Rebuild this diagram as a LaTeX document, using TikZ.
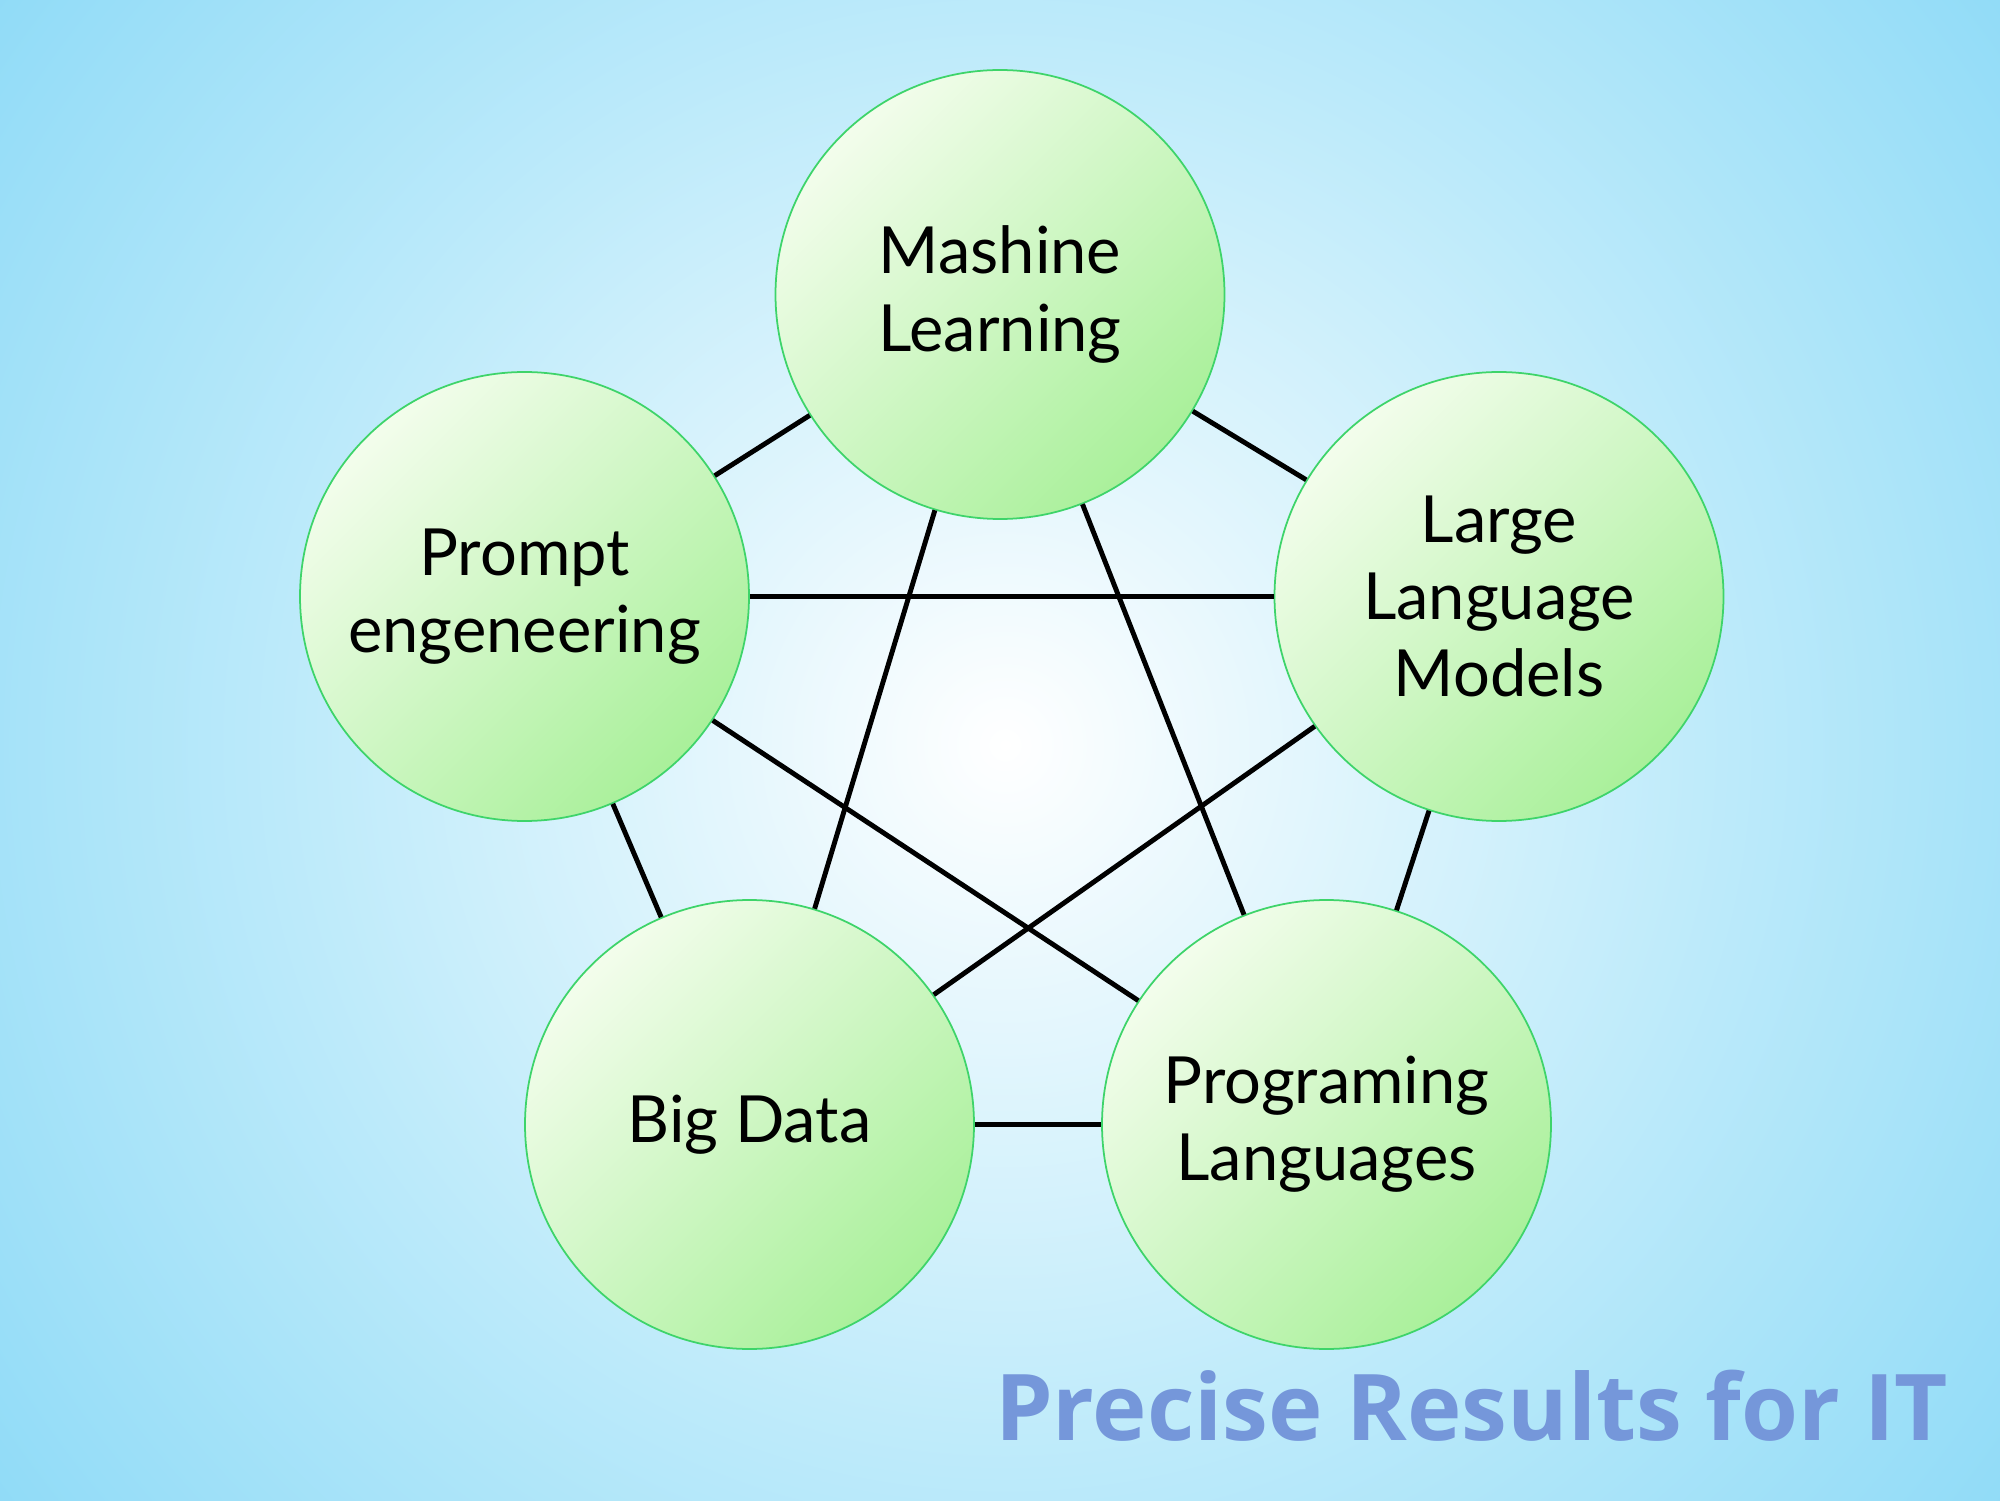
\documentclass[tikz,border=0pt]{standalone}
\usepackage{fontspec}
\setmainfont{Lato}
\newfontfamily\brandfont{Open Sans}
\usepackage{tikz}
\usetikzlibrary{calc}
\definecolor{skyblue}{HTML}{8DDAF7}
\definecolor{skylight}{HTML}{BCEAFA}
\definecolor{skypale}{HTML}{E6F7FD}
\definecolor{leafpale}{HTML}{F3FDEC}
\definecolor{leafdeep}{HTML}{A9F09A}
\definecolor{leafrim}{HTML}{3ED46A}
\definecolor{brandblue}{HTML}{7597DA}
\pgfdeclareradialshading{skyglow}{\pgfpoint{0bp}{0bp}}{color(0bp)=(white); color(5bp)=(skypale); color(14bp)=(skylight); color(25bp)=(skyblue); color(50bp)=(skyblue)}

\begin{document}
\begin{tikzpicture}[
    topic/.style = {circle, draw=leafrim, line width=0.5pt, minimum size=44.9mm,
        inner sep=0mm, align=center, shading=axis, top color=leafpale,
        bottom color=leafdeep, shading angle=45,
        font=\fontsize{18.5}{22}\selectfont},
    link/.style = {draw, black, line width=1.4pt}
  ]
  \useasboundingbox (0,0) rectangle (20,15);
  \begin{scope}
    \clip (0,0) rectangle (20,15);
    \shade[shading=skyglow] (10.05,7.55) circle (13);
  \end{scope}

  \node[topic] (ml)  at (10.00,12.055) {Mashine\\Learning};
  \node[topic] (pe)  at (5.245,9.035)  {Prompt\\engeneering};
  \node[topic] (llm) at (14.99,9.035)  {Large\\Language\\Models};
  \node[topic] (bd)  at (7.495,3.755)  {Big Data};
  \node[topic] (pl)  at (13.265,3.755) {Programing\\Languages};

  \foreach \a/\b in {ml/pe, ml/llm, ml/bd, ml/pl, pe/llm, pe/bd, pe/pl, llm/bd, llm/pl, bd/pl}
  \draw[link] (\a) -- (\b);

  \node[anchor=base east, inner sep=0mm, text=brandblue,
    font=\brandfont\bfseries\fontsize{26.2}{30}\selectfont] (brand) at (19.49,0.60) {Precise Results for IT};
\end{tikzpicture}
\end{document}
